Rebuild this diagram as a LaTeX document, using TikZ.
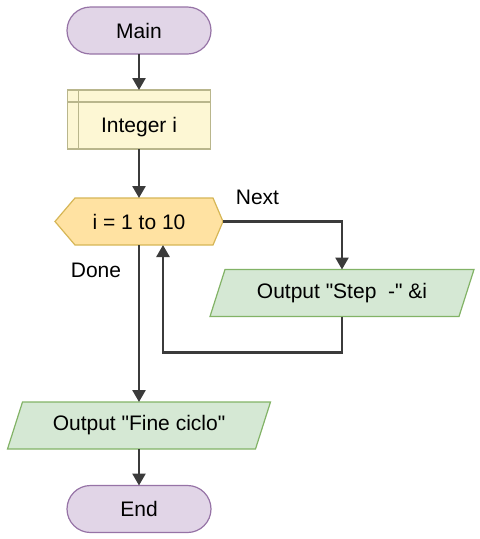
\documentclass[tikz,border=0pt]{standalone}
\usepackage{fontspec}
\setmainfont{Liberation Sans}[Ligatures=TeXOff]
\usetikzlibrary{arrows.meta,backgrounds}
\definecolor{termfill}{HTML}{E1D5E7}
\definecolor{termdraw}{HTML}{9673A6}
\definecolor{procfill}{HTML}{FDF7D4}
\definecolor{procdraw}{HTML}{B9B68C}
\definecolor{loopfill}{HTML}{FFE2A2}
\definecolor{loopdraw}{HTML}{D6B656}
\definecolor{iofill}{HTML}{D5E8D4}
\definecolor{iodraw}{HTML}{82B366}
\definecolor{linec}{HTML}{3B3B3B}
\tikzset{
  base/.style={inner sep=0pt, outer sep=0pt, font=\fontsize{21}{25}\selectfont, text=black},
  term/.style={base, rectangle, rounded corners=23.5pt, draw=termdraw, fill=termfill, line width=1.2pt, minimum width=144pt, minimum height=47pt},
  proc/.style={base, rectangle, draw=procdraw, fill=procfill, line width=1.2pt, minimum width=143pt, minimum height=59pt},
  hexa/.style={base, rectangle, minimum width=168pt, minimum height=47pt},
  io/.style={base, rectangle, minimum height=47pt},
  lbl/.style={base},
  flow/.style={draw=linec, line width=2.6pt, -{Triangle[length=12pt,width=13pt]}},
  plain/.style={draw=linec, line width=2.6pt}
}
\begin{document}
\begin{tikzpicture}[x=1pt,y=1pt]
\useasboundingbox (0,0) rectangle (480,-539);
\node[term] (main) at (139,-30.5) {Main};
\node[proc] (int) at (139,-119.5) {\raisebox{-8pt}[\height][\depth]{Integer i}};
\draw[procdraw, line width=1.2pt] ([xshift=11pt]int.north west) -- ([xshift=11pt]int.south west);
\draw[procdraw, line width=1.2pt] ([yshift=-12pt]int.north west) -- ([yshift=-12pt]int.north east);
\node[hexa] (loop) at (139,-221.5) {i = 1 to 10};
\node[io, minimum width=264pt] (step) at (342,-293) {Output "Step~~-" \&i};
\node[io, minimum width=263pt] (fine) at (139,-425.5) {Output "Fine ciclo"};
\node[term] (end) at (139,-509) {End};
\node[lbl] (next) at (257.5,-197.5) {Next};
\node[lbl] (done) at (96,-270) {Done};
\begin{scope}[on background layer]
\draw[draw=loopdraw, fill=loopfill, line width=1.2pt]
  (loop.west) -- ([xshift=20pt]loop.north west) -- ([xshift=-10pt]loop.north east) -- (loop.east)
  -- ([xshift=-10pt]loop.south east) -- ([xshift=20pt]loop.south west) -- cycle;
\draw[draw=iodraw, fill=iofill, line width=1.2pt]
  (step.south west) -- ([xshift=15pt]step.north west) -- (step.north east) -- ([xshift=-15pt]step.south east) -- cycle;
\draw[draw=iodraw, fill=iofill, line width=1.2pt]
  (fine.south west) -- ([xshift=15pt]fine.north west) -- (fine.north east) -- ([xshift=-15pt]fine.south east) -- cycle;
\end{scope}
\draw[flow] (main.south) -- (int.north);
\draw[flow] (int.south) -- (loop.north);
\draw[flow] (loop.east) -| (step.north);
\draw[flow] (step.south) -- ++(0,-36) -| ([xshift=24pt]loop.south);
\draw[flow] (loop.south) -- (fine.north);
\draw[flow] (fine.south) -- (end.north);
\end{tikzpicture}
\end{document}
